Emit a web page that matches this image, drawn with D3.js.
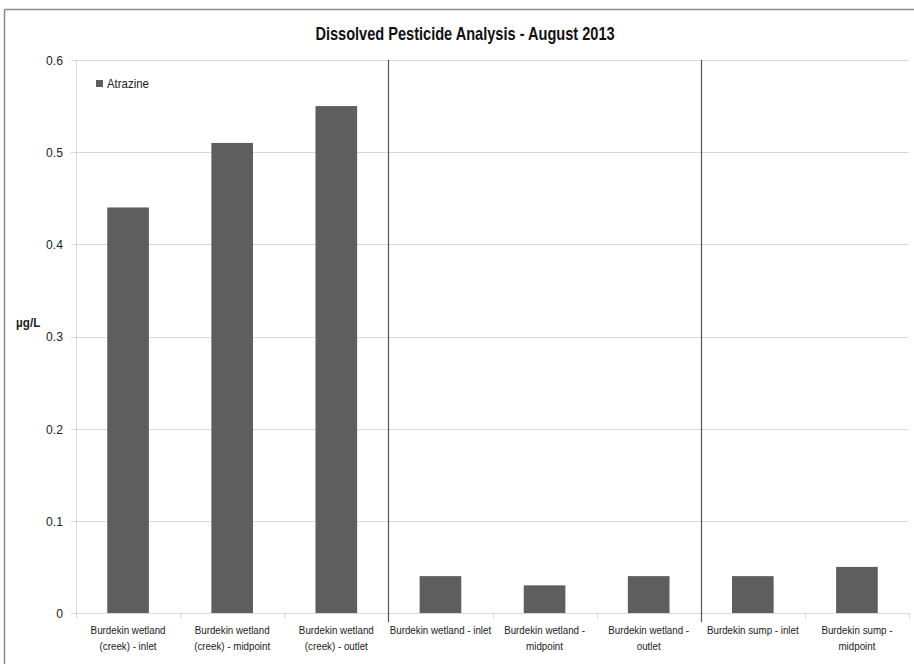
<!DOCTYPE html>
<html>
<head>
<meta charset="utf-8">
<script src="https://cdn.jsdelivr.net/npm/d3@7/dist/d3.min.js"></script>
<style>
  html, body { margin: 0; padding: 0; background: #fff; }
  svg { display: block; font-family: "Liberation Sans", Arial, sans-serif; }
</style>
</head>
<body>
<svg id="chart" width="914" height="664"></svg>
<script>
// Sampling sites (two-line labels) and dissolved atrazine concentrations
const sites = [
  ["Burdekin wetland", "(creek) - inlet"],
  ["Burdekin wetland", "(creek) - midpoint"],
  ["Burdekin wetland", "(creek) - outlet"],
  ["Burdekin wetland - inlet"],
  ["Burdekin wetland -", "midpoint"],
  ["Burdekin wetland -", "outlet"],
  ["Burdekin sump - inlet"],
  ["Burdekin sump -", "midpoint"]
];
const atrazine = [0.44, 0.51, 0.55, 0.04, 0.03, 0.04, 0.04, 0.05];
const yTicks = [0, 0.1, 0.2, 0.3, 0.4, 0.5, 0.6];
// Group boundaries: after creek sites and after wetland sites
const groupBreaks = [3, 6];

const svg = d3.select("#chart");
const W = 914, H = 664;
const m = { left: 76, right: 5, top: 60, bottom: 51 };
const plotW = W - m.left - m.right;
const plotH = H - m.top - m.bottom;

// Frame
svg.append("line").attr("x1", 4.5).attr("x2", W).attr("y1", 9.5).attr("y2", 9.5)
  .attr("stroke", "#8a8a8a").attr("stroke-width", 1.5);
svg.append("line").attr("x1", 4.5).attr("x2", 4.5).attr("y1", 9.5).attr("y2", H)
  .attr("stroke", "#8a8a8a").attr("stroke-width", 1.5);

const idx = d3.range(sites.length);
const x = d3.scaleBand().domain(idx).range([m.left, m.left + plotW]).paddingInner(0.6).paddingOuter(0.3);
const xOuter = d3.scaleBand().domain(idx).range([m.left, m.left + plotW]);
const y = d3.scaleLinear().domain([0, 0.6]).range([m.top + plotH, m.top]);

// Horizontal gridlines
svg.append("g").selectAll("line").data(yTicks).join("line")
  .attr("x1", m.left - 5).attr("x2", m.left + plotW)
  .attr("y1", d => Math.round(y(d)) + 0.5).attr("y2", d => Math.round(y(d)) + 0.5)
  .attr("stroke", "#d9d9d9").attr("stroke-width", 1);

// Y axis line
svg.append("line").attr("x1", m.left + 0.5).attr("x2", m.left + 0.5)
  .attr("y1", m.top).attr("y2", y(0) + 5)
  .attr("stroke", "#d9d9d9");

// Category tick marks
svg.append("g").selectAll("line").data(d3.range(sites.length + 1)).join("line")
  .attr("x1", i => Math.round(m.left + i * xOuter.step()) + 0.5)
  .attr("x2", i => Math.round(m.left + i * xOuter.step()) + 0.5)
  .attr("y1", y(0)).attr("y2", y(0) + 5)
  .attr("stroke", "#d9d9d9");

// Y tick labels (slightly condensed)
svg.append("g").selectAll("text").data(yTicks).join("text")
  .attr("transform", d => `translate(${m.left - 13},${y(d)}) scale(0.9,1)`)
  .attr("dy", "0.36em").attr("text-anchor", "end")
  .attr("font-size", 13.5).attr("fill", "#222")
  .text(d => d3.format("")(d));

// Bars
svg.append("g").selectAll("rect").data(atrazine).join("rect")
  .attr("x", (d, i) => x(i)).attr("width", x.bandwidth())
  .attr("y", d => y(d)).attr("height", d => y(0) - y(d))
  .attr("fill", "#5e5e5e");

// Group separators
svg.append("g").selectAll("line").data(groupBreaks).join("line")
  .attr("x1", i => Math.round(m.left + i * xOuter.step()) + 0.5)
  .attr("x2", i => Math.round(m.left + i * xOuter.step()) + 0.5)
  .attr("y1", m.top).attr("y2", y(0) + 9)
  .attr("stroke", "#555").attr("stroke-width", 1.2);

// Category labels (condensed)
const lab = svg.append("g").selectAll("text").data(sites).join("text")
  .attr("text-anchor", "middle").attr("font-size", 11.5).attr("fill", "#222")
  .attr("transform", (d, i) => `translate(${xOuter(i) + xOuter.bandwidth() / 2},${y(0) + 21}) scale(0.85,1)`);
lab.selectAll("tspan").data(d => d).join("tspan")
  .attr("x", 0).attr("dy", (d, j) => j === 0 ? 0 : 16).text(d => d);

// Y axis title
svg.append("text").attr("transform", "translate(16,327) scale(0.9,1)")
  .attr("font-size", 13).attr("font-weight", "bold").attr("fill", "#222")
  .text("µg/L");

// Title
svg.append("text").attr("transform", "translate(465,40) scale(0.81,1)").attr("text-anchor", "middle")
  .attr("font-size", 18).attr("font-weight", "bold").attr("fill", "#111")
  .text("Dissolved Pesticide Analysis - August 2013");

// Legend
svg.append("rect").attr("x", 96).attr("y", 80).attr("width", 7).attr("height", 7).attr("fill", "#5e5e5e");
svg.append("text").attr("transform", "translate(107,88) scale(0.88,1)")
  .attr("font-size", 13).attr("fill", "#222").text("Atrazine");
</script>
</body>
</html>
